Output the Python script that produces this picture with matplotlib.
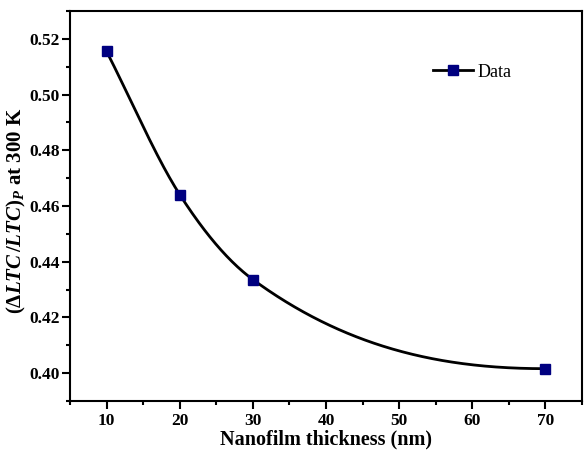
import numpy as np
import matplotlib
matplotlib.use("Agg")
import matplotlib.pyplot as plt
from matplotlib.ticker import MultipleLocator

thickness = [10, 20, 30, 70]
ratio = [0.5155, 0.4641, 0.4336, 0.4016]
xticks = [10, 20, 30, 40, 50, 60, 70]
yticks = [0.40, 0.42, 0.44, 0.46, 0.48, 0.50, 0.52]

plt.rcParams['font.family'] = ['Liberation Serif', 'DejaVu Serif']
plt.rcParams['mathtext.fontset'] = 'custom'
plt.rcParams['mathtext.rm'] = 'Liberation Serif:bold'
plt.rcParams['mathtext.it'] = 'Liberation Serif:italic:bold'
plt.rcParams['mathtext.bf'] = 'Liberation Serif:bold'


def smooth_connect(x, y, xs):
    """Cubic Hermite connecting line; interior tangents = mean of adjacent
    secants, flat tangent at the last point, secant tangent at the first."""
    x = np.asarray(x, float); y = np.asarray(y, float)
    h = np.diff(x); d = np.diff(y) / h
    n = len(x)
    m = np.zeros(n)
    m[0] = d[0]
    for k in range(1, n - 1):
        m[k] = 0.5 * (d[k - 1] + d[k])
    m[-1] = 0.0
    ys = np.empty_like(xs)
    for i, xv in enumerate(xs):
        k = min(max(np.searchsorted(x, xv) - 1, 0), n - 2)
        t = (xv - x[k]) / h[k]
        h00 = 2*t**3 - 3*t**2 + 1; h10 = t**3 - 2*t**2 + t
        h01 = -2*t**3 + 3*t**2; h11 = t**3 - t**2
        ys[i] = h00*y[k] + h10*h[k]*m[k] + h01*y[k+1] + h11*h[k]*m[k+1]
    return ys

fig = plt.figure(figsize=(5.84, 4.51), dpi=100)
ax = fig.add_axes([0.1199, 0.1109, 0.8767, 0.8647])

xs = np.linspace(thickness[0], thickness[-1], 400)
ys = smooth_connect(thickness, ratio, xs)
ax.plot(xs, ys, color='black', lw=2, zorder=2)
ax.plot(thickness, ratio, ls='none', marker='s', ms=7.5, color='#000080',
        mec='#000080', zorder=3)
ax.plot([], [], color='black', lw=2, marker='s', ms=7.5, mfc='#000080',
        mec='#000080', label='Data')

ax.set_xlim(5, 75)
ax.set_ylim(0.39, 0.53)
ax.set_xticks(xticks)
ax.set_yticks(yticks)
ax.set_xticklabels([str(v) for v in xticks])
ax.set_yticklabels([f'{v:.2f}' for v in yticks])
ax.xaxis.set_minor_locator(MultipleLocator(5))
ax.yaxis.set_minor_locator(MultipleLocator(0.01))
ax.tick_params(which='both', direction='out', top=False, right=False, width=1.5)
ax.tick_params(which='major', length=6, labelsize=12.5)
ax.tick_params(axis='y', which='major', pad=1.5)
ax.tick_params(axis='x', which='major', pad=3)
ax.tick_params(which='minor', length=3)
for lab in ax.get_xticklabels() + ax.get_yticklabels():
    lab.set_fontweight('bold')
for s in ax.spines.values():
    s.set_linewidth(1.5)

ax.set_xlabel('Nanofilm thickness (nm)', fontsize=14.5, fontweight='bold')
ax.xaxis.set_label_coords(0.5, -0.074)
ax.set_ylabel(r'$(\mathit{ΔLTC\,/LTC})_{\mathit{P}}$ at 300 K', fontsize=15,
              fontweight='bold')
ax.yaxis.set_label_coords(-0.082, 0.488)

leg = ax.legend(loc='upper right', bbox_to_anchor=(0.895, 0.907), frameon=False,
                fontsize=13, handlelength=2.2, handletextpad=0.3)

fig.savefig('out.png', dpi=100)
